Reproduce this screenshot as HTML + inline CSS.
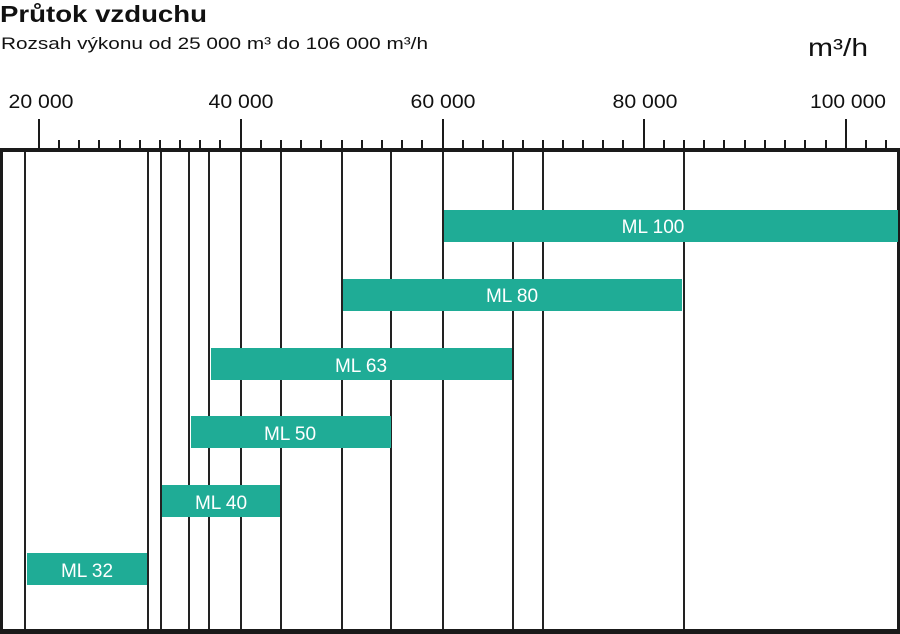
<!DOCTYPE html>
<html><head><meta charset="utf-8"><style>
html,body{margin:0;padding:0;background:#fff;}
svg{display:block;font-family:"Liberation Sans",sans-serif;}
</style></head><body>
<svg width="900" height="634" viewBox="0 0 900 634" xmlns="http://www.w3.org/2000/svg">
<rect width="900" height="634" fill="#fff"/>
<text x="0" y="22" font-size="23" font-weight="bold" fill="#111" textLength="207" lengthAdjust="spacingAndGlyphs">Průtok vzduchu</text>
<text x="1" y="49" font-size="17" fill="#111" textLength="427" lengthAdjust="spacingAndGlyphs">Rozsah výkonu od 25 000 m³ do 106 000 m³/h</text>
<text x="808" y="56" font-size="25" fill="#111" textLength="60" lengthAdjust="spacingAndGlyphs">m³/h</text>
<g font-size="19" fill="#111" text-anchor="middle">
<text x="41" y="108" textLength="65" lengthAdjust="spacingAndGlyphs">20 000</text>
<text x="241" y="108" textLength="65" lengthAdjust="spacingAndGlyphs">40 000</text>
<text x="443" y="108" textLength="65" lengthAdjust="spacingAndGlyphs">60 000</text>
<text x="645" y="108" textLength="65" lengthAdjust="spacingAndGlyphs">80 000</text>
<text x="848" y="108" textLength="76" lengthAdjust="spacingAndGlyphs">100 000</text>
</g>
<g stroke="#1a1a1a" stroke-width="2">
<line x1="39" y1="119" x2="39" y2="150"/><line x1="241" y1="119" x2="241" y2="150"/><line x1="443" y1="119" x2="443" y2="150"/><line x1="644" y1="119" x2="644" y2="150"/><line x1="846" y1="119" x2="846" y2="150"/>
<line x1="59" y1="140" x2="59" y2="150"/><line x1="79" y1="140" x2="79" y2="150"/><line x1="99" y1="140" x2="99" y2="150"/><line x1="120" y1="140" x2="120" y2="150"/><line x1="140" y1="140" x2="140" y2="150"/><line x1="160" y1="140" x2="160" y2="150"/><line x1="180" y1="140" x2="180" y2="150"/><line x1="200" y1="140" x2="200" y2="150"/><line x1="220" y1="140" x2="220" y2="150"/><line x1="261" y1="140" x2="261" y2="150"/><line x1="281" y1="140" x2="281" y2="150"/><line x1="301" y1="140" x2="301" y2="150"/><line x1="321" y1="140" x2="321" y2="150"/><line x1="342" y1="140" x2="342" y2="150"/><line x1="362" y1="140" x2="362" y2="150"/><line x1="382" y1="140" x2="382" y2="150"/><line x1="402" y1="140" x2="402" y2="150"/><line x1="422" y1="140" x2="422" y2="150"/><line x1="463" y1="140" x2="463" y2="150"/><line x1="483" y1="140" x2="483" y2="150"/><line x1="503" y1="140" x2="503" y2="150"/><line x1="523" y1="140" x2="523" y2="150"/><line x1="543" y1="140" x2="543" y2="150"/><line x1="563" y1="140" x2="563" y2="150"/><line x1="583" y1="140" x2="583" y2="150"/><line x1="603" y1="140" x2="603" y2="150"/><line x1="623" y1="140" x2="623" y2="150"/><line x1="664" y1="140" x2="664" y2="150"/><line x1="684" y1="140" x2="684" y2="150"/><line x1="704" y1="140" x2="704" y2="150"/><line x1="724" y1="140" x2="724" y2="150"/><line x1="745" y1="140" x2="745" y2="150"/><line x1="765" y1="140" x2="765" y2="150"/><line x1="785" y1="140" x2="785" y2="150"/><line x1="805" y1="140" x2="805" y2="150"/><line x1="826" y1="140" x2="826" y2="150"/><line x1="866" y1="140" x2="866" y2="150"/><line x1="886" y1="140" x2="886" y2="150"/>
</g>
<g stroke="#222" stroke-width="2">
<line x1="25" y1="150" x2="25" y2="632"/><line x1="148" y1="150" x2="148" y2="632"/><line x1="161" y1="150" x2="161" y2="632"/><line x1="189" y1="150" x2="189" y2="632"/><line x1="209" y1="150" x2="209" y2="632"/><line x1="241" y1="150" x2="241" y2="632"/><line x1="281" y1="150" x2="281" y2="632"/><line x1="342" y1="150" x2="342" y2="632"/><line x1="391" y1="150" x2="391" y2="632"/><line x1="443" y1="150" x2="443" y2="632"/><line x1="513" y1="150" x2="513" y2="632"/><line x1="543" y1="150" x2="543" y2="632"/><line x1="684" y1="150" x2="684" y2="632"/>
</g>
<rect x="0" y="148" width="900" height="4" fill="#1a1a1a"/>
<rect x="0" y="148" width="3" height="486" fill="#1a1a1a"/>
<rect x="897" y="148" width="3" height="486" fill="#1a1a1a"/>
<rect x="0" y="629" width="900" height="5" fill="#1a1a1a"/>
<g fill="#1fac96">
<rect x="444" y="210" width="454" height="32"/>
<rect x="343" y="279" width="339" height="32"/>
<rect x="211" y="348" width="301" height="32"/>
<rect x="191" y="416" width="200" height="32"/>
<rect x="162" y="485" width="118" height="32"/>
<rect x="27" y="553" width="120" height="32"/>
</g>
<g fill="#fff" font-size="19" text-anchor="middle">
<text x="653" y="233">ML 100</text>
<text x="512" y="302">ML 80</text>
<text x="361" y="372">ML 63</text>
<text x="290" y="440">ML 50</text>
<text x="221" y="509">ML 40</text>
<text x="87" y="577">ML 32</text>
</g>
</svg>
</body></html>
